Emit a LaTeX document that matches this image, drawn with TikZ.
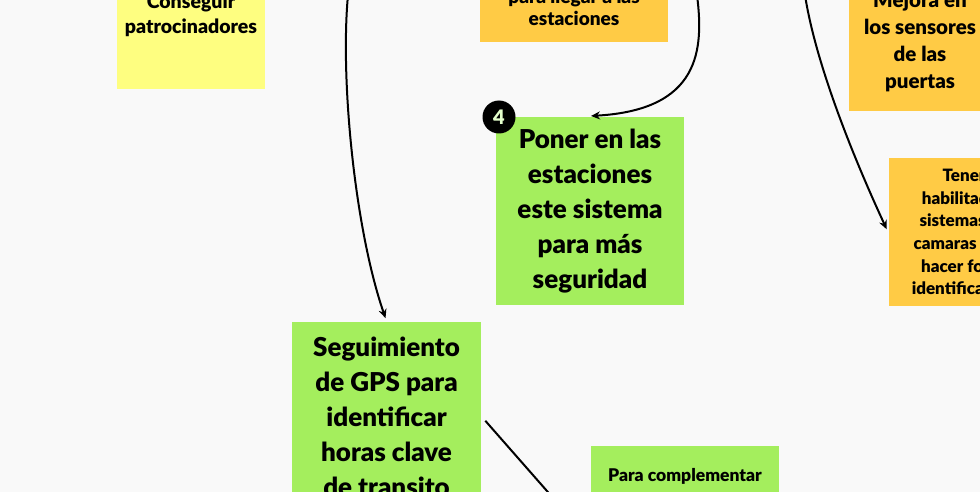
\documentclass[tikz,border=0pt]{standalone}
\usepackage{fontspec}
\setmainfont{Lato}[BoldFont={Lato Black}]
\usetikzlibrary{positioning,calc,arrows.meta}
\definecolor{bg}{HTML}{F9F9F9}
\definecolor{lime}{HTML}{A4EE5D}
\definecolor{sun}{HTML}{FFCB45}
\definecolor{lemon}{HTML}{FEFE80}
\definecolor{pale}{HTML}{E4FFCC}

\begin{document}
\begin{tikzpicture}[x=1pt,y=-1pt,line width=2pt,
  >={Stealth[length=9pt,width=8pt]},
  note/.style={inner sep=0pt, align=center, font=\bfseries},
  big/.style={font=\bfseries\fontsize{26}{35}\selectfont},
  badge/.style={circle, fill=black, text=pale, minimum size=33pt, inner sep=0pt,
    font=\bfseries\fontsize{20}{20}\selectfont}]
\useasboundingbox (0,0) rectangle (980,492);
\clip (0,0) rectangle (980,492);
\fill [bg] (0,0) rectangle (980,492);

\node (pat) [note, fill=lemon, minimum width=148pt, minimum height=147pt,
  font=\bfseries\fontsize{19.5}{25}\selectfont] at (191,15.5) {Conseguir\\patrocinadores};
\node (est) [note, fill=sun, minimum width=188pt, minimum height=70pt,
  font=\bfseries\fontsize{19}{22}\selectfont] at (574,7) {para llegar a las\\estaciones};
\node (sen) [note, fill=sun, minimum width=142pt, minimum height=138pt,
  font=\bfseries\fontsize{20.5}{26.7}\selectfont] at (920,42) {Mejora en\\los sensores\\de las\\puertas};
\node (cam) [note, fill=sun, minimum width=150pt, minimum height=148pt,
  font=\bfseries\fontsize{17}{22.6}\selectfont] at (964,232)
  {Tener\\habilitados\\sistemas de\\camaras para\\hacer fotos\\identificacion};

\node (pon) [note, big, fill=lime, minimum width=188pt, minimum height=188pt] at (590,211)
  {Poner en las\\estaciones\\este sistema\\para más\\seguridad};
\node (num) [badge] at ($ (pon.north west) + (4,1) $) {4};

\node (gps) [note, big, fill=lime, minimum width=189pt, minimum height=190pt] at (386.5,417)
  {Seguimiento\\de GPS para\\identificar\\horas clave\\de transito};
\node (comp) [note, fill=lime, minimum width=188pt, minimum height=188pt] at (685,540) {};
\node (compt) [font=\bfseries\fontsize{17.5}{22}\selectfont] at (685,476) {Para complementar};

\coordinate (s1) at (697,-5);
\coordinate (s2) at (348,-5);
\coordinate (s3) at (805,-5);

\draw [->, shorten >=1pt] (s1) .. controls (704,50) and (700,110) .. (pon.north);
\draw [->, shorten >=3pt] (s2) .. controls (340,80) and (355,230) .. (gps.north);
\draw [->, shorten >=3pt] (s3) .. controls (815,60) and (850,150) .. (cam.west);
\draw [->, shorten <=5pt, shorten >=3pt] (gps.east) -- (comp.west);

\end{tikzpicture}
\end{document}
